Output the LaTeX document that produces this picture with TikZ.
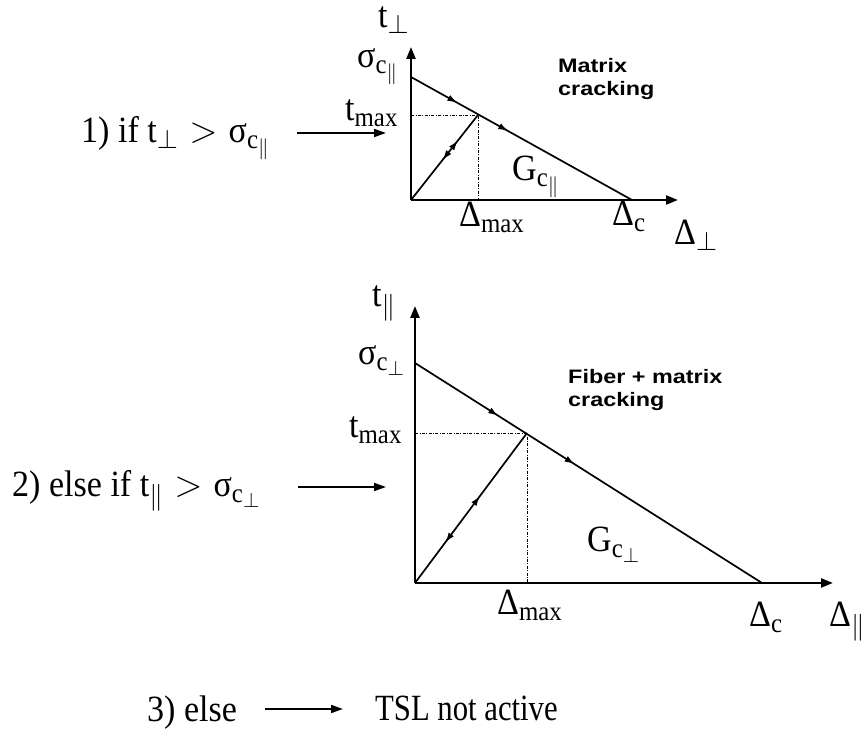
\RequirePackage{fix-cm}
\documentclass[tikz,border=0pt]{standalone}
\usepackage{amsmath}
\usepackage{fontspec}
\setmainfont[FakeStretch=0.92]{Liberation Serif}
\newfontfamily\tslfont[FakeStretch=0.83]{Liberation Serif}
\newfontfamily\notefont[FakeStretch=1.2]{Liberation Sans}
\DeclareMathSizes{37}{37}{27}{21}
\newcommand{\gt}{\hspace{0.3em}$>$\hspace{0.3em}}
\usetikzlibrary{decorations.markings,arrows.meta}
\tikzset{
  x=1pt, y=1pt,
  midtip/.tip={Latex[length=10pt,width=6.5pt]},
  axis/.style={line width=2.4pt,-{Triangle[length=12pt,width=9pt]}},
  law/.style={line width=1.7pt},
  guide/.style={line width=0.6pt,dash pattern=on 3pt off 1.5pt on 0.8pt off 1.5pt},
  big/.style={inner sep=0pt,anchor=base west,font=\fontsize{37}{42}\selectfont},
  note/.style={inner sep=0pt,font=\notefont\bfseries\fontsize{19.5}{23}\selectfont,align=left,anchor=base west},
  flow/.style={line width=1.7pt,-{Triangle[length=12pt,width=8pt]}},
}
\begin{document}
\begin{tikzpicture}
\useasboundingbox (0,0) rectangle (863,733);
% ---------- top diagram ----------
\coordinate (O1) at (411,533);
\coordinate (Y1) at (411,686);
\coordinate (X1) at (678,533);
\coordinate (S1) at (411,656);
\coordinate (C1) at (632,533);
\coordinate (P1) at (478,618);
\coordinate (T1) at (411,618);
\coordinate (D1) at (478,533);
\draw[guide] (T1) -- (P1) -- (D1);
\draw[law,postaction={decorate},decoration={markings,
   mark=at position 0.21 with {\arrow{midtip}},
   mark=at position 0.44 with {\arrow{midtip}}}] (S1) -- (C1);
\draw[law,postaction={decorate},decoration={markings,
   mark=at position 0.7 with {\arrow{midtip}},
   mark=at position 0.47 with {\arrowreversed{midtip}}}] (O1) -- (P1);
\draw[axis] (O1) -- (Y1);
\draw[axis] (O1) -- (X1);
\node[big] (tperp) at (378,705) {t$_{\perp}$};
\node[big] (sig1) at (357,665) {σ$_{\text{c}_{\parallel}}$};
\node[big] (tmax1) at (345,612) {t$_{\text{max}}$};
\node[big] (dmax1) at (459,506) {Δ$_{\text{max}}$};
\node[big] (dc1) at (612,507) {Δ$_{\text{c}}$};
\node[big] (dperp) at (674,488) {Δ$_{\perp}$};
\node[big] (g1) at (512,552) {G$_{\text{c}_{\parallel}}$};
\node[note] (mc) at (558,637) {Matrix\\cracking};
\node[big] (cond1) at (81,590) {1) if t$_{\perp}$\gt σ$_{\text{c}_{\parallel}}$};
\coordinate (a1s) at (297,600);
\coordinate (a1e) at (386,600);
\draw[flow] (a1s) -- (a1e);
% ---------- bottom diagram ----------
\coordinate (O2) at (415,150);
\coordinate (Y2) at (415,427);
\coordinate (X2) at (833,150);
\coordinate (S2) at (415,370);
\coordinate (C2) at (762,150);
\coordinate (P2) at (527,300);
\coordinate (T2) at (415,300);
\coordinate (D2) at (527,150);
\draw[guide] (T2) -- (P2) -- (D2);
\draw[law,postaction={decorate},decoration={markings,
   mark=at position 0.24 with {\arrow{midtip}},
   mark=at position 0.46 with {\arrow{midtip}}}] (S2) -- (C2);
\draw[law,postaction={decorate},decoration={markings,
   mark=at position 0.58 with {\arrow{midtip}},
   mark=at position 0.27 with {\arrowreversed{midtip}}}] (O2) -- (P2);
\draw[axis] (O2) -- (Y2);
\draw[axis] (O2) -- (X2);
\node[big] (tpar) at (372,426) {t$_{\parallel}$};
\node[big] (sig2) at (358,368) {σ$_{\text{c}_{\perp}}$};
\node[big] (tmax2) at (349,295) {t$_{\text{max}}$};
\node[big] (dmax2) at (497,118) {Δ$_{\text{max}}$};
\node[big] (dc2) at (749,106) {Δ$_{\text{c}}$};
\node[big] (dpar) at (829,106) {Δ$_{\parallel}$};
\node[big] (g2) at (587,181) {G$_{\text{c}_{\perp}}$};
\node[note] (fmc) at (568,326) {Fiber + matrix\\cracking};
\node[big] (cond2) at (12,236) {2) else if t$_{\parallel}$\gt σ$_{\text{c}_{\perp}}$};
\coordinate (a2s) at (298,246);
\coordinate (a2e) at (386,246);
\draw[flow] (a2s) -- (a2e);
% ---------- case 3 ----------
\node[big] (cond3) at (147,11) {3) else};
\node[big,font=\tslfont\fontsize{37}{42}\selectfont] (tsl) at (375,12) {TSL not active};
\coordinate (a3s) at (265,24);
\coordinate (a3e) at (343,24);
\draw[flow] (a3s) -- (a3e);
\end{tikzpicture}
\end{document}
